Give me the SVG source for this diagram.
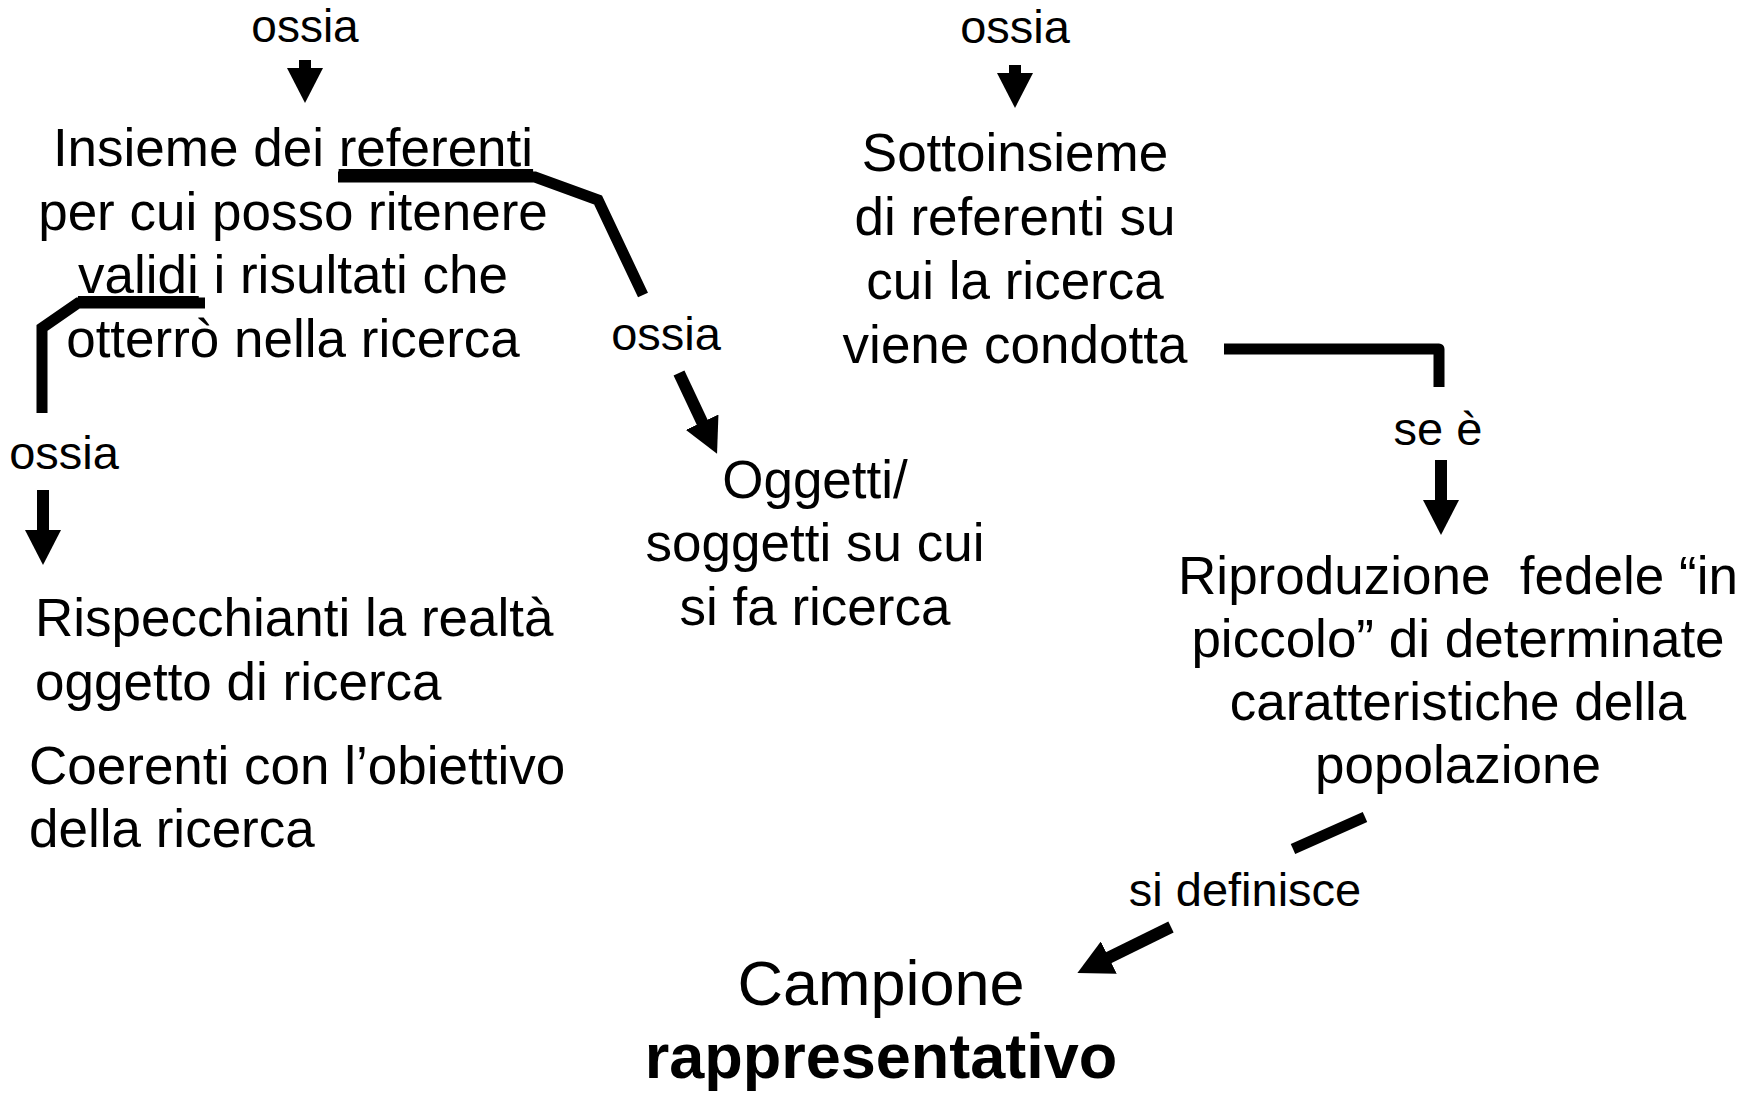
<svg xmlns="http://www.w3.org/2000/svg" width="1756" height="1094" viewBox="0 0 1756 1094">
<style>
text{font-family:"Liberation Sans",Arial,sans-serif;fill:#000;}
.n{font-size:53px;}
.l{font-size:47px;}
.c{text-anchor:middle;}
.big{font-size:63px;}
.b{font-weight:bold;}
.u{text-decoration:underline;}
.pre{white-space:pre;}
.con{fill:none;stroke:#000;stroke-width:11;}
.arr{fill:none;stroke:#000;stroke-width:12;marker-end:url(#ah);}
</style>
<defs>
<marker id="ah" viewBox="0 0 36 36" markerWidth="36" markerHeight="36" markerUnits="userSpaceOnUse" refX="2" refY="18" orient="auto">
<path d="M0,0 L35,18 L0,36 Z" fill="#000"/>
</marker>
</defs>
<rect width="1756" height="1094" fill="#fff"/>
<g id="connectors">
<line class="arr" x1="305" y1="60" x2="305" y2="70"/>
<line class="arr" x1="1015" y1="65" x2="1015" y2="75"/>
<polyline class="con" points="338,177 535,177 598,200 643,295"/>
<line class="arr" x1="679" y1="373" x2="703" y2="424"/>
<polyline class="con" points="205,303 78,303 42,328 42,413"/>
<line class="arr" x1="43" y1="490" x2="43" y2="532"/>
<polyline class="con" stroke-linejoin="round" points="1224,349 1439,349 1439,387"/>
<line class="arr" x1="1441" y1="460" x2="1441" y2="502"/>
<line class="con" x1="1365" y1="817" x2="1293" y2="849"/>
<line class="arr" x1="1171" y1="927" x2="1107" y2="958.5"/>
</g>
<g id="label-ossia-1"><text class="c" style="font-size:46px" x="305" y="42">ossia</text></g>
<g id="label-ossia-2"><text class="l c" x="1015" y="43">ossia</text></g>
<g id="label-ossia-3"><text class="l c" x="666" y="350">ossia</text></g>
<g id="label-ossia-4"><text class="l c" x="64" y="469">ossia</text></g>
<g id="label-se-e"><text class="l c" x="1438" y="445">se è</text></g>
<g id="label-si-definisce"><text class="l c" x="1245" y="906">si definisce</text></g>
<g id="node-popolazione">
<text class="n c" x="293" y="166">Insieme dei <tspan class="u">referenti</tspan></text>
<text class="n c" x="293" y="230">per cui posso ritenere</text>
<text class="n c" x="293" y="293"><tspan class="u">validi</tspan> i risultati che</text>
<text class="n c" x="293" y="357">otterrò nella ricerca</text>
</g>
<g id="node-campione-def">
<text class="n c" x="1015" y="171">Sottoinsieme</text>
<text class="n c" x="1015" y="235">di referenti su</text>
<text class="n c" x="1015" y="299">cui la ricerca</text>
<text class="n c" x="1015" y="363">viene condotta</text>
</g>
<g id="node-oggetti">
<text class="n c" x="815" y="498">Oggetti/</text>
<text class="n c" x="815" y="561">soggetti su cui</text>
<text class="n c" x="815" y="625">si fa ricerca</text>
</g>
<g id="node-rispecchianti">
<text class="n" x="35" y="636">Rispecchianti la realtà</text>
<text class="n" x="35" y="700">oggetto di ricerca</text>
</g>
<g id="node-coerenti">
<text class="n" x="29" y="784">Coerenti con l’obiettivo</text>
<text class="n" x="29" y="847">della ricerca</text>
</g>
<g id="node-riproduzione">
<text class="n c pre" x="1458" y="594">Riproduzione  fedele “in</text>
<text class="n c" x="1458" y="657">piccolo” di determinate</text>
<text class="n c" x="1458" y="720">caratteristiche della</text>
<text class="n c" x="1458" y="783">popolazione</text>
</g>
<g id="node-campione">
<text class="big c" x="881" y="1005">Campione</text>
<text class="big c b" x="881" y="1078">rappresentativo</text>
</g>
</svg>
